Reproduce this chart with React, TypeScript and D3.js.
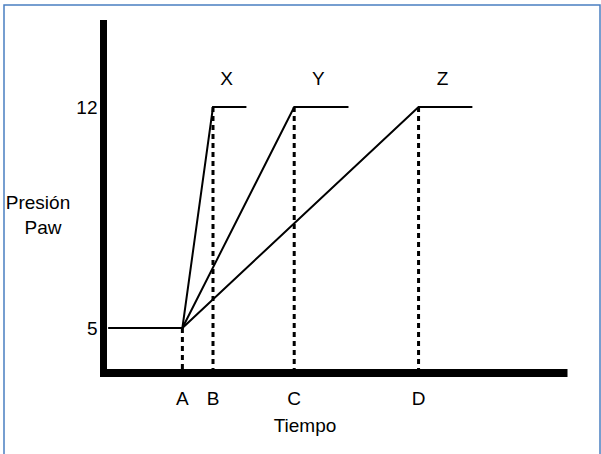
import * as d3 from "d3";

// time positions (arbitrary units along the x axis)
const timeLabels = ["A", "B", "C", "D"];
const timeValues = [17, 23.6, 41.1, 67.9];

// pressure levels
const basePressure = 5;
const peakPressure = 12;
const yTickValues = [5, 12];

// ramps: all start at A, reach the peak at B / C / D, then hold
const seriesNames = ["X", "Y", "Z"];
const peakTimes = [23.6, 41.1, 67.9];
const holdEnds = [30.8, 52.8, 79.5];
const baselineStart = 1;

const width = 601;
const height = 454;

const App = () => {
  const x = d3.scaleLinear().domain([0, 100]).range([103.5, 567.5]);
  const y = d3.scaleLinear().domain([basePressure, peakPressure]).range([328, 107]);

  const axisY = 373;
  const axisX = 103.5;
  const font = "Liberation Sans, Arial, sans-serif";
  const fs = 19;

  const line = d3
    .line<[number, number]>()
    .x((d) => x(d[0]))
    .y((d) => y(d[1]));

  const baseline = line([
    [baselineStart, basePressure],
    [timeValues[0], basePressure],
  ]);

  return (
    <svg
      width={width}
      height={height}
      style={{ position: "absolute", left: 0, top: 0, background: "#fff" }}
      fontFamily={font}
    >
      {/* frame */}
      <path d={`M4,${height} V5 H600 V${height}`} fill="none" stroke="#4a7fc1" strokeWidth={1.5} />

      {/* axes */}
      <rect x={axisX - 3.5} y={20} width={7} height={axisY + 4 - 20} fill="#000" />
      <rect x={axisX - 3.5} y={axisY - 4} width={567.5 - axisX + 3.5} height={8} fill="#000" />

      {/* y tick labels */}
      {yTickValues.map((v) => (
        <text key={v} x={axisX - 6} y={y(v) + 7} textAnchor="end" fontSize={fs}>
          {v}
        </text>
      ))}
      <text x={38} y={209} textAnchor="middle" fontSize={fs}>Presión</text>
      <text x={43} y={234} textAnchor="middle" fontSize={fs}>Paw</text>

      {/* dashed drop lines */}
      {timeValues.map((t, i) => (
        <line
          key={timeLabels[i]}
          x1={x(t)}
          x2={x(t)}
          y1={i === 0 ? y(basePressure) : y(peakPressure)}
          y2={axisY - 4}
          stroke="#000"
          strokeWidth={3}
          strokeDasharray="5,4"
        />
      ))}

      {/* baseline and ramps */}
      <path d={baseline ?? ""} fill="none" stroke="#000" strokeWidth={2} />
      {seriesNames.map((name, i) => (
        <g key={name}>
          <path
            d={
              line([
                [timeValues[0], basePressure],
                [peakTimes[i], peakPressure],
                [holdEnds[i], peakPressure],
              ]) ?? ""
            }
            fill="none"
            stroke="#000"
            strokeWidth={2}
            strokeLinejoin="miter"
          />
          <text
            x={(x(peakTimes[i]) + x(holdEnds[i])) / 2 - 3}
            y={85}
            textAnchor="middle"
            fontSize={fs}
          >
            {name}
          </text>
        </g>
      ))}

      {/* x labels */}
      {timeValues.map((t, i) => (
        <text key={timeLabels[i]} x={x(t)} y={405} textAnchor="middle" fontSize={fs}>
          {timeLabels[i]}
        </text>
      ))}
      <text x={305} y={432} textAnchor="middle" fontSize={fs}>Tiempo</text>
    </svg>
  );
};

export default App;
